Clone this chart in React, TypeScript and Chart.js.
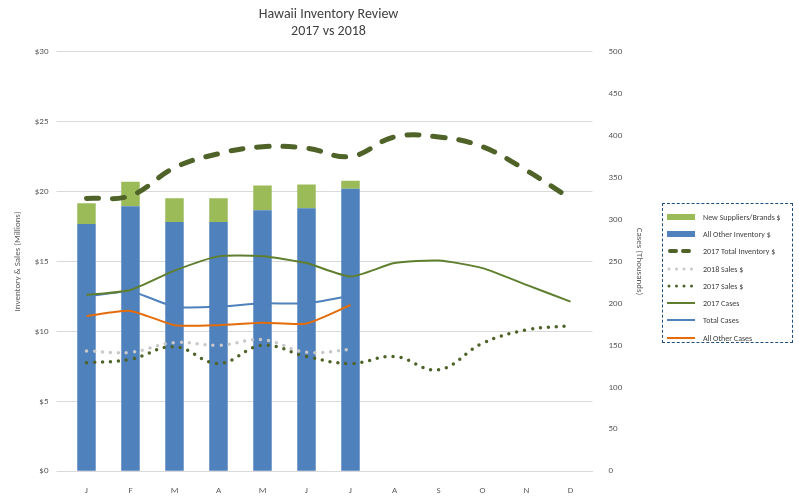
import { useEffect, useRef } from "react"
import { Chart, registerables } from "chart.js"

Chart.register(...registerables)

const months = ["J", "F", "M", "A", "M", "J", "J", "A", "S", "O", "N", "D"]
const newSuppliers = [1.47, 1.76, 1.7, 1.7, 1.76, 1.69, 0.57]
const allOtherInventory = [17.68, 18.94, 17.82, 17.82, 18.66, 18.8, 20.2]
const totalInventory2017 = [19.5, 19.7, 21.7, 22.7, 23.2, 23.1, 22.5, 23.9, 23.9, 23.2, 21.5, 19.5]
const sales2018 = [8.6, 8.5, 9.2, 9.0, 9.4, 8.5, 8.7]
const sales2017 = [7.75, 8.0, 8.9, 7.7, 9.0, 8.2, 7.7, 8.2, 7.25, 9.15, 10.1, 10.4]
const cases2017 = [210, 216, 239, 256, 256, 248, 232, 248, 251, 242, 222, 202]
const totalCases = [208, 214, 196, 196, 200, 200, 209]
const allOtherCases = [185, 191, 174, 174, 177, 176, 198]

const legendItems = [
  { label: "New Suppliers/Brands $", kind: "box", color: "#9bbb59" },
  { label: "All Other Inventory $", kind: "box", color: "#4f81bd" },
  { label: "2017 Total Inventory $", kind: "dash", color: "#4f6228" },
  { label: "2018 Sales $", kind: "dot", color: "#c8c8c8" },
  { label: "2017 Sales $", kind: "dot", color: "#4f6228" },
  { label: "2017 Cases", kind: "line", color: "#5f7f2f" },
  { label: "Total Cases", kind: "line", color: "#4f81bd" },
  { label: "All Other Cases", kind: "line", color: "#e46c0a" },
]

function LegendMark({ kind, color }: { kind: string; color: string }) {
  return (
    <svg width="30" height="8" style={{ marginRight: 6 }}>
      {kind === "box" && <rect x="0" y="1" width="28" height="6" fill={color} />}
      {kind === "line" && <line x1="0" y1="4" x2="28" y2="4" stroke={color} strokeWidth="2" />}
      {kind === "dash" && (
        <line x1="3" y1="4" x2="27" y2="4" stroke={color} strokeWidth="4" strokeLinecap="round" strokeDasharray="6 7" />
      )}
      {kind === "dot" && (
        <line x1="2" y1="4" x2="28" y2="4" stroke={color} strokeWidth="3" strokeLinecap="round" strokeDasharray="0 7.5" />
      )}
    </svg>
  )
}

export default function App() {
  const chartRef = useRef<HTMLCanvasElement>(null)
  const chartInstance = useRef<Chart | null>(null)

  useEffect(() => {
    document.body.style.margin = "0"
    if (!chartRef.current) return
    if (chartInstance.current) chartInstance.current.destroy()
    const ctx = chartRef.current.getContext("2d")
    if (!ctx) return

    const font = { family: "Calibri, Carlito, 'Liberation Sans', Arial, sans-serif", size: 9 }

    chartInstance.current = new Chart(ctx, {
      type: "bar",
      data: {
        labels: months,
        datasets: [
          { type: "line", label: "2017 Total Inventory $", data: totalInventory2017, yAxisID: "y", stack: "l1", borderColor: "#4f6228", borderWidth: 5, borderDash: [12, 14], borderCapStyle: "round", pointRadius: 0, tension: 0.4, order: 1 },
          { type: "line", label: "2018 Sales $", data: sales2018, yAxisID: "y", stack: "l2", borderColor: "#c8c8c8", borderWidth: 3.5, borderDash: [0, 8], borderCapStyle: "round", pointRadius: 0, tension: 0.4, order: 1 },
          { type: "line", label: "2017 Sales $", data: sales2017, yAxisID: "y", stack: "l3", borderColor: "#4f6228", borderWidth: 3.5, borderDash: [0, 8], borderCapStyle: "round", pointRadius: 0, tension: 0.4, order: 1 },
          { type: "line", label: "2017 Cases", data: cases2017, yAxisID: "y1", borderColor: "#5f7f2f", borderWidth: 2, pointRadius: 0, tension: 0.2, order: 1 },
          { type: "line", label: "Total Cases", data: totalCases, yAxisID: "y1", borderColor: "#4f81bd", borderWidth: 2, pointRadius: 0, tension: 0.2, order: 1 },
          { type: "line", label: "All Other Cases", data: allOtherCases, yAxisID: "y1", borderColor: "#e46c0a", borderWidth: 2, pointRadius: 0, tension: 0.2, order: 1 },
          { type: "bar", label: "All Other Inventory $", data: allOtherInventory, yAxisID: "y", backgroundColor: "#4f81bd", stack: "s", barPercentage: 0.42, categoryPercentage: 1, order: 2 },
          { type: "bar", label: "New Suppliers/Brands $", data: newSuppliers, yAxisID: "y", backgroundColor: "#9bbb59", stack: "s", barPercentage: 0.42, categoryPercentage: 1, order: 2 },
        ],
      },
      options: {
        animation: false,
        responsive: false,
        layout: { padding: { left: 8, right: 150, top: 6, bottom: 0 } },
        plugins: {
          legend: { display: false },
          tooltip: { enabled: false },
          title: {
            display: true,
            text: ["Hawaii Inventory Review", "2017 vs 2018"],
            color: "#404040",
            font: { family: font.family, size: 14, weight: "normal" },
            padding: { top: 0, bottom: 12 },
          },
        },
        scales: {
          x: {
            stacked: true,
            grid: { display: false },
            border: { color: "#d9d9d9" },
            ticks: { color: "#595959", font, padding: 6 },
          },
          y: {
            position: "left",
            stacked: true,
            min: 0,
            max: 30,
            ticks: { stepSize: 5, color: "#595959", font, padding: 8, callback: (v) => "$" + v },
            grid: { color: "#d9d9d9" },
            border: { display: false },
            title: { display: true, text: "Inventory & Sales (Millions)", color: "#595959", font },
          },
          y1: {
            position: "right",
            min: 0,
            max: 500,
            ticks: { stepSize: 50, color: "#595959", font, padding: 8 },
            grid: { display: false },
            border: { display: false },
            title: { display: true, text: "Cases (Thousands)", color: "#595959", font },
          },
        },
      },
    })

    return () => {
      if (chartInstance.current) chartInstance.current.destroy()
    }
  }, [])

  return (
    <div style={{ position: "relative", width: 799, height: 502, background: "#fff" }}>
      <canvas ref={chartRef} width={799} height={502} />
      <div
        style={{
          position: "absolute",
          left: 662,
          top: 203,
          width: 131,
          height: 140,
          border: "1px dashed #1f4e79",
          boxSizing: "border-box",
          padding: "4px 0 0 4px",
          fontFamily: "Calibri, Carlito, 'Liberation Sans', Arial, sans-serif",
          fontSize: 8,
          color: "#404040",
        }}
      >
        {legendItems.map((it) => (
          <div key={it.label} style={{ display: "flex", alignItems: "center", height: 17.3 }}>
            <LegendMark kind={it.kind} color={it.color} />
            <span>{it.label}</span>
          </div>
        ))}
      </div>
    </div>
  )
}
